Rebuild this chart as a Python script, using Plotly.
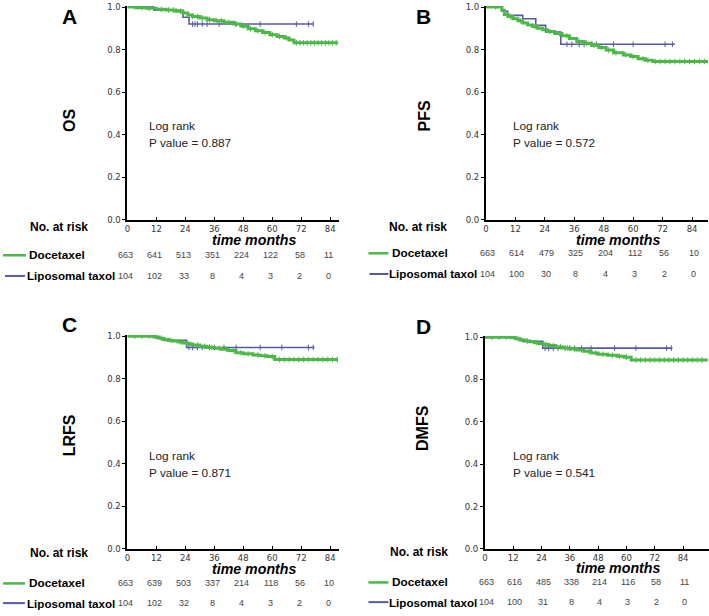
import numpy as np
import plotly.graph_objects as go

W, H = 709, 616

# ---------------- data ----------------
month_ticks = [0, 12, 24, 36, 48, 60, 72, 84]
surv_ticks = [0.0, 0.2, 0.4, 0.6, 0.8, 1.0]
panel_letters = ["A", "B", "C", "D"]
endpoints = ["OS", "PFS", "LRFS", "DMFS"]
p_values = ["0.887", "0.572", "0.871", "0.541"]
group_names = ["Docetaxel", "Liposomal taxol"]

# OS
os_doc_t = [0, 4, 8, 12, 16, 20, 23, 25, 27, 30, 33, 36, 40, 44, 47, 50, 53, 56, 59, 62, 65, 67, 69]
os_doc_s = [1.0, 0.997, 0.994, 0.99, 0.986, 0.98, 0.972, 0.962, 0.955, 0.948, 0.94, 0.935, 0.928, 0.92,
            0.91, 0.898, 0.888, 0.88, 0.87, 0.862, 0.855, 0.845, 0.832]
os_doc_end = 87.3
os_doc_cens = [3, 6, 9, 14, 17, 19, 22, 27, 29, 31, 34, 37, 39, 42, 45, 48, 51, 54, 57, 60, 63, 66,
               70, 71.5, 73, 74.5, 76, 77.5, 79, 80.5, 82, 83.5, 85, 86.5]
os_lip_t = [0, 11, 23, 25.5]
os_lip_s = [1.0, 0.985, 0.952, 0.92]
os_lip_end = 77
os_lip_cens = [27, 28, 29, 31, 33, 38, 45, 55, 70, 75, 77]

# PFS
pfs_doc_t = [0, 6.5, 7.5, 9, 11, 13, 15, 17, 19, 21, 23, 25, 28, 31, 34, 37, 40, 43, 46, 49, 52, 56,
             59, 62, 65, 68]
pfs_doc_s = [1.0, 0.985, 0.965, 0.955, 0.945, 0.935, 0.925, 0.915, 0.908, 0.9, 0.893, 0.885, 0.876,
             0.865, 0.852, 0.838, 0.83, 0.82, 0.81, 0.798, 0.785, 0.775, 0.767, 0.757, 0.75, 0.744]
pfs_doc_end = 90.5
pfs_doc_cens = [4, 10, 14, 20, 26, 30, 33, 38, 41, 44, 47, 50, 53, 57, 60, 64, 66, 69, 71, 73, 75,
                77, 79, 81, 83, 85, 87, 89]
pfs_lip_t = [0, 6.5, 8.8, 15, 20.3, 24.3, 30.5]
pfs_lip_s = [1.0, 0.98, 0.961, 0.945, 0.914, 0.883, 0.825]
pfs_lip_end = 77
pfs_lip_cens = [33, 35, 38, 40, 43, 45, 52, 60, 73, 76]

# LRFS
lrfs_doc_t = [0, 11, 13, 15, 17, 19, 21, 23, 25, 27, 30, 33, 36, 39, 42, 45, 48, 52, 55, 58, 61]
lrfs_doc_s = [1.0, 0.996, 0.99, 0.984, 0.98, 0.977, 0.973, 0.968, 0.963, 0.958, 0.952, 0.947, 0.943,
              0.938, 0.932, 0.922, 0.917, 0.912, 0.908, 0.904, 0.89]
lrfs_doc_end = 87.3
lrfs_doc_cens = [3, 6, 9, 14, 18, 22, 26, 29, 32, 35, 38, 41, 44, 47, 50, 54, 57, 60, 63, 65, 67, 69,
                 71, 73, 75, 77, 79, 81, 83, 85, 87]
lrfs_lip_t = [0, 12, 15, 24.5]
lrfs_lip_s = [1.0, 0.99, 0.98, 0.947]
lrfs_lip_end = 77.5
lrfs_lip_cens = [25.5, 27, 29, 31, 34, 36, 40, 45, 55, 64, 75, 77]

# DMFS
dmfs_doc_t = [0, 11, 13, 15, 17, 19, 21, 23, 25, 27, 30, 33, 36, 39, 42, 45, 48, 52, 56, 59, 62]
dmfs_doc_s = [1.0, 0.997, 0.992, 0.987, 0.982, 0.978, 0.974, 0.969, 0.965, 0.96, 0.954, 0.949, 0.944,
              0.939, 0.933, 0.925, 0.919, 0.914, 0.91, 0.905, 0.892]
dmfs_doc_end = 94.5
dmfs_doc_cens = [3, 6, 9, 14, 18, 22, 26, 29, 32, 35, 38, 41, 44, 47, 50, 54, 57, 60, 64, 66, 68, 70,
                 72, 74, 76, 78, 80, 82, 84, 86, 88, 90, 92]
dmfs_lip_t = [0, 13, 16, 24.5]
dmfs_lip_s = [1.0, 0.99, 0.98, 0.948]
dmfs_lip_end = 79.5
dmfs_lip_cens = [25.5, 27, 29, 31, 34, 36, 38, 41, 45, 55, 64, 77, 79]

# numbers at risk
os_risk_doc = [663, 641, 513, 351, 224, 122, 58, 11]
os_risk_lip = [104, 102, 33, 8, 4, 3, 2, 0]
pfs_risk_doc = [663, 614, 479, 325, 204, 112, 56, 10]
pfs_risk_lip = [104, 100, 30, 8, 4, 3, 2, 0]
lrfs_risk_doc = [663, 639, 503, 337, 214, 118, 56, 10]
lrfs_risk_lip = [104, 102, 32, 8, 4, 3, 2, 0]
dmfs_risk_doc = [663, 616, 485, 338, 214, 116, 58, 11]
dmfs_risk_lip = [104, 100, 31, 8, 4, 3, 2, 0]

# ---------------- styling / layout ----------------
GREEN = "#4cb848"
BLUE = "#5a58a6"
FONT = "Liberation Sans, Arial, sans-serif"
TICKFONT = "DejaVu Sans, Verdana, sans-serif"

def px(x):
    return x / W

def py(y):
    return 1 - y / H

panels = [
    dict(box=(125, 337, 2, 219), xmax=87.5, letter=(67, 13), ylab=(67, 118), logrank=(145, 124),
         risk=(56, 226), tm=(252, 240), rows=(255, 276), leg=(0, 23, 24, 2, 22, 22), noff=-1.5),
    dict(box=(485, 708, 2, 219), xmax=90.5, letter=(422, 13), ylab=(423, 114), logrank=(510, 124),
         risk=(417, 226), tm=(618, 240), rows=(253, 274), leg=(367, 387, 389, 368, 387, 386), noff=1.5),
    dict(box=(125, 337, 336, 553), xmax=87.5, letter=(67, 325), ylab=(67, 438), logrank=(145, 459),
         risk=(56, 557), tm=(252, 573), rows=(588, 608), leg=(0, 22, 24, 0, 22, 22), noff=-1.5),
    dict(box=(484, 709, 337, 553), xmax=95.0, letter=(422, 327), ylab=(421, 430), logrank=(510, 459),
         risk=(418, 556), tm=(618, 572), rows=(587, 607), leg=(367, 387, 389, 367, 387, 386), noff=1.5),
]

curves = [
    ((os_doc_t, os_doc_s, os_doc_end, os_doc_cens), (os_lip_t, os_lip_s, os_lip_end, os_lip_cens),
     os_risk_doc, os_risk_lip),
    ((pfs_doc_t, pfs_doc_s, pfs_doc_end, pfs_doc_cens), (pfs_lip_t, pfs_lip_s, pfs_lip_end, pfs_lip_cens),
     pfs_risk_doc, pfs_risk_lip),
    ((lrfs_doc_t, lrfs_doc_s, lrfs_doc_end, lrfs_doc_cens),
     (lrfs_lip_t, lrfs_lip_s, lrfs_lip_end, lrfs_lip_cens), lrfs_risk_doc, lrfs_risk_lip),
    ((dmfs_doc_t, dmfs_doc_s, dmfs_doc_end, dmfs_doc_cens),
     (dmfs_lip_t, dmfs_lip_s, dmfs_lip_end, dmfs_lip_cens), dmfs_risk_doc, dmfs_risk_lip),
]

fig = go.Figure()
annotations = []
shapes = []
layout_axes = {}

for i, (pan, (doc, lip, rdoc, rlip)) in enumerate(zip(panels, curves)):
    n = "" if i == 0 else str(i + 1)
    xa, ya = "x" + n, "y" + n
    l, r, t, b = pan["box"]
    layout_axes["xaxis" + n] = dict(
        domain=[px(l), px(r)], range=[0, pan["xmax"]], anchor=ya,
        tickvals=month_ticks, ticks="inside", ticklen=3, tickwidth=1, tickcolor="black",
        showline=True, linecolor="black", linewidth=1.5, showgrid=False, zeroline=False,
        tickfont=dict(family=TICKFONT, size=8.5, color="#333"),
    )
    layout_axes["yaxis" + n] = dict(
        domain=[py(b), py(t)], range=[0, 1.005], anchor=xa,
        tickvals=surv_ticks, tickformat=".1f", ticks="outside", ticklen=3, tickwidth=1,
        tickcolor="black", showline=True, linecolor="black", linewidth=2, showgrid=False,
        zeroline=False, tickfont=dict(family=TICKFONT, size=8.5, color="#333"),
    )

    for (tt, ss, end, cens), color, width, name in [
        (lip, BLUE, 1.6, group_names[1]),
        (doc, GREEN, 3, group_names[0]),
    ]:
        xs = list(tt) + [end]
        ys = list(ss) + [ss[-1]]
        fig.add_trace(go.Scatter(x=xs, y=ys, mode="lines", line=dict(color=color, width=width, shape="hv"),
                                 xaxis=xa, yaxis=ya, showlegend=False, hoverinfo="skip", name=name))
        tarr = np.array(tt)
        carr = np.array(cens)
        idx = np.searchsorted(tarr, carr, side="right") - 1
        cy = np.array(ss)[idx]
        fig.add_trace(go.Scatter(x=carr, y=cy, mode="markers",
                                 marker=dict(symbol="line-ns-open", size=4, color=color,
                                             line=dict(color=color, width=1)),
                                 xaxis=xa, yaxis=ya, showlegend=False, hoverinfo="skip"))

    annotations.append(dict(text="<b>%s</b>" % panel_letters[i], x=px(pan["letter"][0]), y=py(pan["letter"][1]),
                            xref="paper", yref="paper", showarrow=False, xanchor="center", yanchor="middle",
                            font=dict(family=FONT, size=21, color="black")))
    annotations.append(dict(text="<b>%s</b>" % endpoints[i], x=px(pan["ylab"][0]), y=py(pan["ylab"][1]),
                            xref="paper", yref="paper", showarrow=False, textangle=-90,
                            xanchor="center", yanchor="middle",
                            font=dict(family=FONT, size=16, color="black")))
    annotations.append(dict(text="Log rank", x=px(pan["logrank"][0]), y=py(pan["logrank"][1]),
                            xref="paper", yref="paper", showarrow=False, xanchor="left", yanchor="middle",
                            font=dict(family=FONT, size=11.8, color="#222")))
    annotations.append(dict(text="P value = %s" % p_values[i], x=px(pan["logrank"][0]),
                            y=py(pan["logrank"][1] + 17),
                            xref="paper", yref="paper", showarrow=False, xanchor="left", yanchor="middle",
                            font=dict(family=FONT, size=11.8, color="#222")))
    annotations.append(dict(text="<b>No. at risk</b>", x=px(pan["risk"][0]), y=py(pan["risk"][1]),
                            xref="paper", yref="paper", showarrow=False, xanchor="center", yanchor="middle",
                            font=dict(family=FONT, size=12, color="black")))
    annotations.append(dict(text="<b><i>time months</i></b>", x=px(pan["tm"][0]), y=py(pan["tm"][1]),
                            xref="paper", yref="paper", showarrow=False, xanchor="center", yanchor="middle",
                            font=dict(family=FONT, size=14.2, color="black")))
    gl0, gl1, gtx, bl0, bl1, btx = pan["leg"]
    r1, r2 = pan["rows"]
    shapes.append(dict(type="line", xref="paper", yref="paper", x0=px(gl0), x1=px(gl1), y0=py(r1), y1=py(r1),
                       line=dict(color=GREEN, width=2.5)))
    shapes.append(dict(type="line", xref="paper", yref="paper", x0=px(bl0), x1=px(bl1), y0=py(r2), y1=py(r2),
                       line=dict(color=BLUE, width=2)))
    annotations.append(dict(text="<b>%s</b>" % group_names[0], x=px(gtx), y=py(r1), xref="paper", yref="paper",
                            showarrow=False, xanchor="left", yanchor="middle",
                            font=dict(family=FONT, size=11.8, color="black")))
    annotations.append(dict(text="<b>%s</b>" % group_names[1], x=px(btx), y=py(r2), xref="paper", yref="paper",
                            showarrow=False, xanchor="left", yanchor="middle",
                            font=dict(family=FONT, size=11.6, color="black")))
    for tv, v1, v2 in zip(month_ticks, rdoc, rlip):
        annotations.append(dict(text=str(v1), x=tv, y=py(r1), xref=xa, yref="paper", showarrow=False,
                                xanchor="center", yanchor="middle", xshift=pan["noff"],
                                font=dict(family=FONT, size=9, color="#444")))
        annotations.append(dict(text=str(v2), x=tv, y=py(r2), xref=xa, yref="paper", showarrow=False,
                                xanchor="center", yanchor="middle", xshift=pan["noff"],
                                font=dict(family=FONT, size=9, color="#444")))

fig.update_layout(
    width=W, height=H, autosize=False,
    margin=dict(l=0, r=0, t=0, b=0),
    paper_bgcolor="white", plot_bgcolor="white",
    showlegend=False,
    annotations=annotations, shapes=shapes,
    **layout_axes,
)

fig.write_html("out.html", config={"displayModeBar": False},
               post_script="document.body.style.margin='0';document.body.style.overflow='hidden';")
